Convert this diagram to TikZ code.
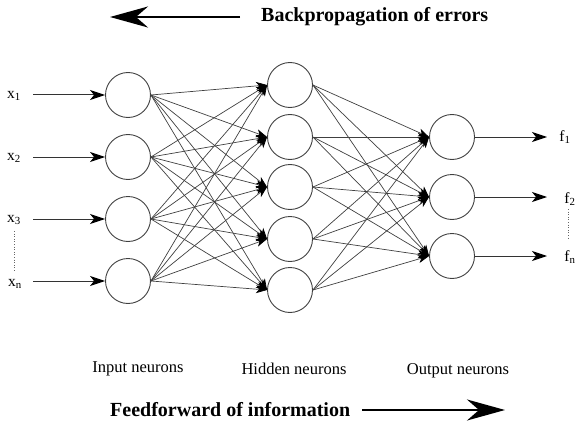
\documentclass[tikz,border=0pt]{standalone}
\usepackage{fontspec}
\setmainfont{Liberation Serif}
\usetikzlibrary{arrows.meta}
\begin{document}
\begin{tikzpicture}[x=1pt,y=-1pt,
  neuron/.style={circle,draw=black!75,line width=0.9pt,minimum size=45pt,inner sep=0pt},
  conn/.style={draw=black!75,line width=0.7pt,-{Stealth[length=11pt,width=8pt,inset=3pt,color=black]}},
  io/.style={draw=black!80,line width=1pt,-{Stealth[length=15pt,width=10pt,inset=4pt,color=black]}},
  lbl/.style={font=\fontsize{16.5}{16.5}\selectfont,inner sep=0pt},
  sym/.style={font=\fontsize{15.5}{15.5}\selectfont,inner sep=0pt},
  title/.style={font=\bfseries\fontsize{20}{20}\selectfont,inner sep=0pt},
  dots/.style={draw=black!60,line width=0.6pt,dotted},
  big/.style={draw=black,line width=2pt,-{Stealth[length=38pt,width=21pt,inset=12pt]}}]
\useasboundingbox (0,0) rectangle (576,428);
% neurons
\foreach \i/\y in {1/95,2/157,3/219,4/281} \node[neuron] (i\i) at (128,\y) {};
\foreach \i/\y in {1/85,2/137,3/187,4/239,5/290} \node[neuron] (h\i) at (290,\y) {};
\foreach \i/\y in {1/137,2/197,3/256} \node[neuron] (o\i) at (452,\y) {};
\foreach \i in {1,...,4} \foreach \j in {1,...,5} \draw[conn] (i\i.east) -- (h\j.west);
\foreach \j in {1,...,5} \foreach \k in {1,...,3} \draw[conn] (h\j.east) -- (o\k.west);
% inputs
\node[sym] (x1) at (14,96) {x\textsubscript{1}};
\node[sym] (x2) at (14,158) {x\textsubscript{2}};
\node[sym] (x3) at (14,220) {x\textsubscript{3}};
\node[sym] (x4) at (15,284) {x\textsubscript{n}};
\foreach \i in {1,...,4} {
  \coordinate (s\i) at (33,0 |- i\i);
  \draw[io] (s\i) -- (i\i);
}
\coordinate (d1) at (14,231);
\coordinate (d2) at (14,272);
\draw[dots] (d1) -- (d2);
% outputs
\node[sym] (f1) at (565,137) {f\textsubscript{1}};
\node[sym] (f2) at (570,199) {f\textsubscript{2}};
\node[sym] (f3) at (570,257) {f\textsubscript{n}};
\foreach \k in {1,2,3} {
  \coordinate (e\k) at (547,0 |- o\k);
  \draw[io] (o\k) -- (e\k);
}
\coordinate (d3) at (568,209);
\coordinate (d4) at (568,240);
\draw[dots] (d3) -- (d4);
% titles
\node[title,anchor=west] (bp) at (261,17) {Backpropagation of errors};
\coordinate (bpa) at (240,17);
\coordinate (bpb) at (110,17);
\draw[big] (bpa) -- (bpb);
\node[title,anchor=west] (ff) at (110,410) {Feedforward of information};
\coordinate (ffa) at (362,410);
\coordinate (ffb) at (505,410);
\draw[big] (ffa) -- (ffb);
% layer labels
\node[lbl] (li) at (138,369) {Input neurons};
\node[lbl] (lh) at (294,369) {Hidden neurons};
\node[lbl] (lo) at (458,371) {Output neurons};
\end{tikzpicture}
\end{document}
